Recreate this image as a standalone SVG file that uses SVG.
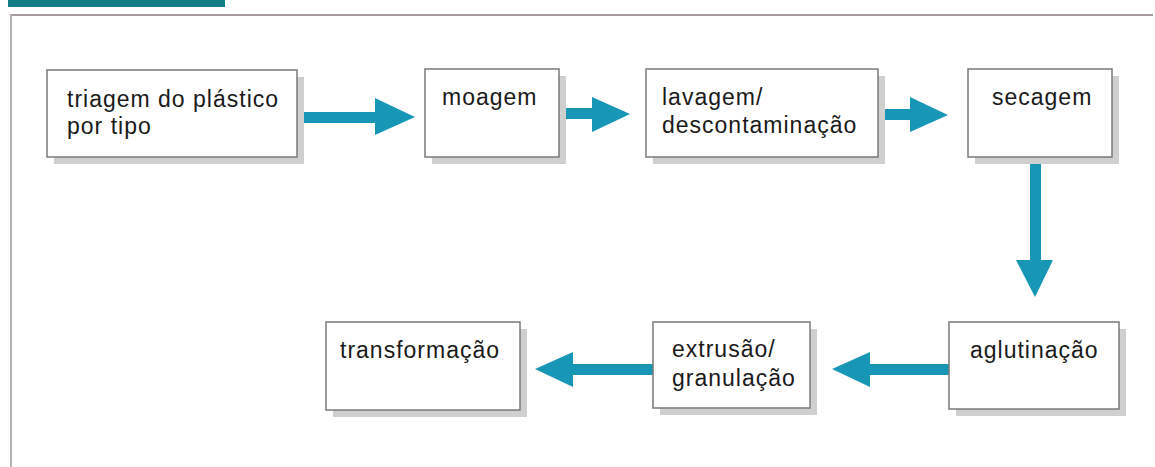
<svg xmlns="http://www.w3.org/2000/svg" width="1155" height="467" viewBox="0 0 1155 467">
<style>
.box{fill:#ffffff;stroke:#7a7a7a;stroke-width:1.5}
.shadow{fill:#cfcfcf}
.lbl{font-family:"Liberation Sans",Arial,sans-serif;font-size:23px;letter-spacing:1px;fill:#1a1a1a}
.arr{fill:#1796b6}
</style>
<rect x="0" y="0" width="1155" height="467" fill="#ffffff"/>
<rect x="8" y="0" width="217" height="7" fill="#137d86"/>
<line x1="10" y1="15" x2="1153" y2="15" stroke="#8a7c7c" stroke-width="1.5"/>
<line x1="11" y1="15" x2="11" y2="467" stroke="#b5b5b5" stroke-width="2"/>

<g id="connectors">
  <g id="c1"><rect class="arr" x="297" y="112" width="80" height="11"/><polygon class="arr" points="375,98 415,117 375,135"/></g>
  <g id="c2"><rect class="arr" x="559" y="108" width="35" height="11"/><polygon class="arr" points="592,97 630,114 592,132"/></g>
  <g id="c3"><rect class="arr" x="878" y="109" width="34" height="11"/><polygon class="arr" points="910,97 948,115 910,132"/></g>
  <g id="c4"><rect class="arr" x="1030" y="157" width="11" height="105"/><polygon class="arr" points="1016,260 1053,260 1035,297"/></g>
  <g id="c5"><rect class="arr" x="868" y="364" width="81" height="11"/><polygon class="arr" points="870,352 870,387 832,369"/></g>
  <g id="c6"><rect class="arr" x="571" y="364" width="82" height="11"/><polygon class="arr" points="573,352 573,387 535,369"/></g>
</g>

<g id="n1">
  <rect class="shadow" x="54" y="77" width="250" height="87"/>
  <rect class="box" x="47" y="70" width="250" height="87"/>
  <text class="lbl" x="67" y="107">triagem do plástico</text>
  <text class="lbl" x="67" y="134">por tipo</text>
</g>
<g id="n2">
  <rect class="shadow" x="432" y="76" width="134" height="88"/>
  <rect class="box" x="425" y="69" width="134" height="88"/>
  <text class="lbl" x="442" y="105">moagem</text>
</g>
<g id="n3">
  <rect class="shadow" x="653" y="76" width="232" height="88"/>
  <rect class="box" x="646" y="69" width="232" height="88"/>
  <text class="lbl" x="662" y="105">lavagem/</text>
  <text class="lbl" x="662" y="133">descontaminação</text>
</g>
<g id="n4">
  <rect class="shadow" x="975" y="76" width="144" height="88"/>
  <rect class="box" x="968" y="69" width="144" height="88"/>
  <text class="lbl" x="992" y="105">secagem</text>
</g>
<g id="n5">
  <rect class="shadow" x="956" y="329" width="170" height="87"/>
  <rect class="box" x="949" y="322" width="170" height="87"/>
  <text class="lbl" x="970" y="358">aglutinação</text>
</g>
<g id="n6">
  <rect class="shadow" x="660" y="329" width="157" height="86"/>
  <rect class="box" x="653" y="322" width="157" height="86"/>
  <text class="lbl" x="672" y="357">extrusão/</text>
  <text class="lbl" x="672" y="386">granulação</text>
</g>
<g id="n7">
  <rect class="shadow" x="333" y="329" width="194" height="88"/>
  <rect class="box" x="326" y="322" width="194" height="88"/>
  <text class="lbl" x="340" y="358">transformação</text>
</g>
</svg>
